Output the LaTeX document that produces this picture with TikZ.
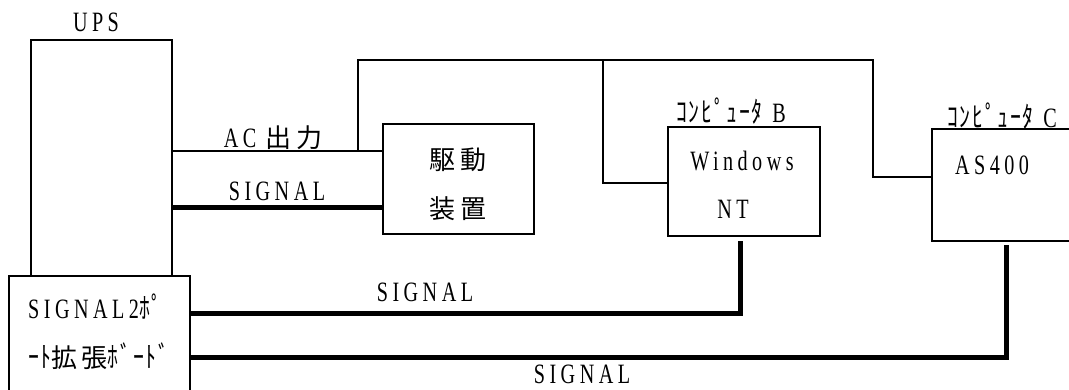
\documentclass[tikz,border=0pt]{standalone}
\usepackage{fontspec}
\setmainfont{Liberation Serif}[LetterSpace=16,FakeStretch=0.72]
\newfontfamily\jp{Noto Sans CJK JP}[LetterSpace=16]
\newfontfamily\hk{Noto Sans CJK JP}[LetterSpace=6,FakeStretch=0.75]
\newcommand{\kanji}[1]{{\fontsize{26}{28}\jp #1}}
\newcommand{\hank}[1]{{\fontsize{29}{28}\hk #1}}
\begin{document}
\begin{tikzpicture}[x=1pt,y=-1pt,
  every node/.style={font=\fontsize{28}{30}\selectfont, inner sep=0pt},
  box/.style={draw, line width=1.5pt},
  wire/.style={line width=1.5pt},
  sig/.style={line width=5pt, line join=miter}]
\clip (0,0) rectangle (1069,389);
% boxes
\node[box, minimum width=141pt, minimum height=236pt] (ups) at (101.5,158) {};
\node[box, minimum width=181pt, minimum height=124pt] (board) at (99.5,338) {};
\node[box, minimum width=151pt, minimum height=110pt] (drive) at (458.5,179) {};
\node[box, minimum width=152pt, minimum height=109pt] (nt) at (744,181.5) {};
\node[box, minimum width=148pt, minimum height=112pt] (as) at (1006,185) {};
% texts
\node (upsl) at (96,22) {UPS};
\node (d1) at (458,160) {\kanji{駆動}};
\node (d2) at (458,209) {\kanji{装置}};
\node (w1) at (742,161) {Windows};
\node (w2) at (733,209) {NT};
\node (lb) at (731,111) {\hank{ｺﾝﾋﾟｭｰﾀ} B};
\node (lc) at (1002,116) {\hank{ｺﾝﾋﾟｭｰﾀ} C};
\node (a4) at (992,165) {AS400};
\node[anchor=west] (bt1) at (28,307) {SIGNAL2\hank{ﾎﾟ}};
\node[anchor=west] (bt2) at (28,356) {\hank{ｰﾄ}\kanji{拡張}\hank{ﾎﾞｰﾄﾞ}};
\node (acl) at (273,138) {AC \kanji{出力}};
\node (sl1) at (277,191) {SIGNAL};
\node (sl2) at (425,292) {SIGNAL};
\node (sl3) at (582,374) {SIGNAL};
% junction coordinates
\coordinate (j1) at (358,151);
\coordinate (j2) at (358,60);
\coordinate (j3) at (603,60);
\coordinate (j4) at (873,60);
\coordinate (k1) at (873,177);
\coordinate (k2) at (603,183);
\coordinate (s1) at (0,207);
\coordinate (b1) at (740,313);
\coordinate (b1t) at (740,241);
\coordinate (b2) at (1006,357);
\coordinate (b2t) at (1006,245);
% wires
\draw[wire] (ups.east |- j1) -- (drive.west |- j1);
\draw[wire] (j1) -- (j2) -- (j4) -- (k1) -- (as.west |- k1);
\draw[wire] (j3) -- (k2) -- (nt.west |- k2);
\draw[sig] (ups.east |- s1) -- (drive.west |- s1);
\draw[sig] (board.east |- b1) -- (b1) -- (b1t);
\draw[sig] (board.east |- b2) -- (b2) -- (b2t);
\end{tikzpicture}
\end{document}
